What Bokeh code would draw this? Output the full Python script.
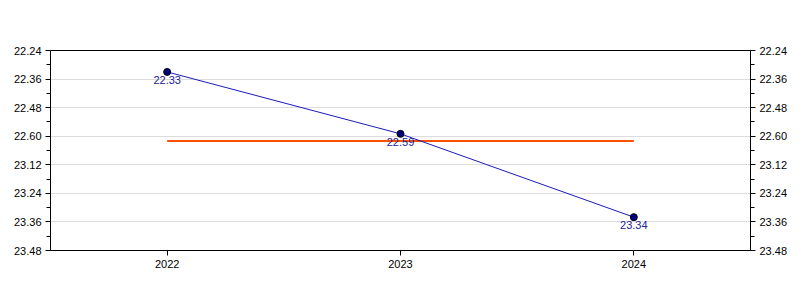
from bokeh.plotting import figure
from bokeh.models import Range1d, FixedTicker, LinearAxis, ColumnDataSource
from bokeh.embed import file_html
from bokeh.resources import INLINE
from bokeh.core.properties import value

years = ["2022", "2023", "2024"]
times = ["22.33", "22.59", "23.34"]
y_tick_labels = ["22.24", "22.36", "22.48", "22.60", "23.12", "23.24", "23.36", "23.48"]


def to_sec(s):
    m, sec = s.split(".")
    return int(m) * 60 + int(sec)


secs = [to_sec(t) for t in times]
mean_sec = sum(secs) / len(secs)
tick_pos = [to_sec(t) for t in y_tick_labels]
minor_pos = [(a + b) / 2 for a, b in zip(tick_pos[:-1], tick_pos[1:])]

FONT = "Liberation Sans"

p = figure(width=800, height=300, x_range=years,
           y_range=Range1d(tick_pos[-1], tick_pos[0]),
           output_backend="svg", toolbar_location=None,
           min_border_left=50, min_border_right=50, min_border_top=50, min_border_bottom=50,
           frame_width=700, frame_height=200)

p.outline_line_color = "black"
p.outline_line_width = 1
p.background_fill_color = "white"
p.border_fill_color = "white"

p.xgrid.grid_line_color = None
p.ygrid.grid_line_color = "#dddddd"
p.ygrid.ticker = FixedTicker(ticks=tick_pos)

overrides = {pos: lab for pos, lab in zip(tick_pos, y_tick_labels)}


def style_y(ax):
    ax.ticker = FixedTicker(ticks=tick_pos, minor_ticks=minor_pos)
    ax.major_label_overrides = overrides
    ax.major_tick_out = 5
    ax.major_tick_in = 0
    ax.minor_tick_out = 4
    ax.minor_tick_in = 0
    ax.axis_line_color = "black"
    ax.major_tick_line_color = "black"
    ax.minor_tick_line_color = "black"
    ax.major_label_text_font = FONT
    ax.major_label_text_font_size = "11px"
    ax.major_label_text_color = "black"
    ax.major_label_standoff = 4


style_y(p.yaxis[0])
right = LinearAxis()
style_y(right)
p.add_layout(right, "right")

xa = p.xaxis[0]
xa.major_tick_out = 5
xa.major_tick_in = 0
xa.axis_line_color = "black"
xa.major_label_text_font = FONT
xa.major_label_text_font_size = "11px"
xa.major_label_text_color = "black"
xa.major_label_standoff = 4

src = ColumnDataSource(dict(x=years, y=secs, label=times))

p.line(x=[years[0], years[-1]], y=[mean_sec, mean_sec], line_color="#ff4f00", line_width=2)
p.line(x="x", y="y", source=src, line_color="#1a1abb", line_width=1)
p.scatter(x="x", y="y", source=src, size=7, fill_color="#000080", line_color="black", line_width=1)
p.text(x="x", y="y", text="label", source=src, text_align="center", text_baseline="top",
       y_offset=4, text_font=value(FONT), text_font_size="11px", text_color="#22229a")

open("out.html", "w").write(file_html(p, INLINE))
